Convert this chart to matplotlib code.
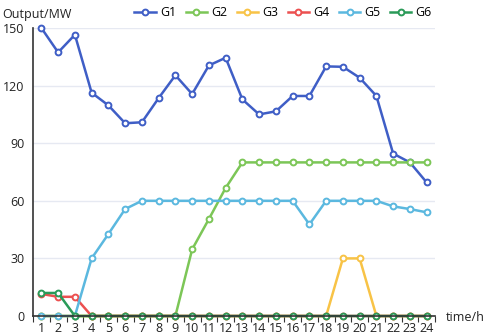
import numpy as np
import matplotlib.pyplot as plt

plt.rcParams['font.family'] = ['Open Sans', 'DejaVu Sans']

hours = list(range(1, 25))
g1 = [150, 137.3, 146.5, 116.3, 109.7, 100.4, 100.9, 113.5, 125.4, 115.6, 130.5, 134.5,
      112.8, 105, 106.6, 114.6, 114.6, 130, 129.8, 124.1, 114.6, 84.6, 80, 69.6]
g2 = [0, 0, 0, 0, 0, 0, 0, 0, 0, 34.7, 50.5, 66.7,
      80, 80, 80, 80, 80, 80, 80, 80, 80, 80, 80, 80]
g3 = [0] * 18 + [30, 30] + [0] * 4
g4 = [11.5, 10, 10] + [0] * 21
g5 = [0, 0, 0, 30, 42.7, 55.7, 60, 60, 60, 60, 60, 60,
      60, 60, 60, 60, 47.7, 60, 60, 60, 60, 57.1, 55.7, 54]
g6 = [12, 12] + [0] * 22

series = [('G1', g1, '#3f5ec6'), ('G2', g2, '#7cc657'), ('G3', g3, '#f8c346'),
          ('G4', g4, '#ec5050'), ('G5', g5, '#5bb8df'), ('G6', g6, '#2a9a58')]


def main():
    fig = plt.figure(figsize=(4.84, 3.35), dpi=100)
    ax = fig.add_axes([0.0682, 0.0567, 0.8306, 0.8597])

    for name, vals, col in series:
        ax.plot(hours, vals, color=col, lw=1.8, marker='o', ms=4.2,
                mfc='white', mec=col, mew=1.4, label=name, clip_on=False)

    ax.set_xlim(0.5, 24.5)
    ax.set_ylim(0, 150)
    ax.set_yticks([0, 30, 60, 90, 120, 150])
    ax.set_xticks(np.arange(0.5, 25, 1))
    ax.set_xticklabels([])
    ax.set_xticks(hours, minor=True)
    ax.set_xticklabels([str(h) for h in hours], minor=True)
    ax.tick_params(axis='x', which='major', length=4, color='#333333')
    ax.tick_params(axis='x', which='minor', length=0, pad=4, labelsize=9, labelcolor='#222222')
    ax.tick_params(axis='y', length=0, pad=6, labelsize=9, labelcolor='#222222')
    ax.grid(axis='y', color='#e6e9f2', lw=1)
    ax.set_axisbelow(True)
    for s in ['top', 'right']:
        ax.spines[s].set_visible(False)
    ax.spines['left'].set_color('#333333')
    ax.spines['bottom'].set_color('#333333')
    ax.spines['left'].set_linewidth(1.2)
    ax.spines['bottom'].set_linewidth(1.2)

    fig.text(0.004, 0.975, 'Output/MW', fontsize=9, color='#222222', va='top')
    fig.text(0.921, 0.052, 'time/h', fontsize=9, color='#222222', va='center')

    ax.legend(loc='upper center', bbox_to_anchor=(0.585, 1.0), bbox_transform=fig.transFigure,
              ncol=6, frameon=False, fontsize=9, handlelength=1.7, handletextpad=0.35,
              columnspacing=0.75, borderaxespad=0.1)

    fig.savefig('out.png', dpi=100)
    plt.close(fig)


if __name__ == '__main__':
    main()
